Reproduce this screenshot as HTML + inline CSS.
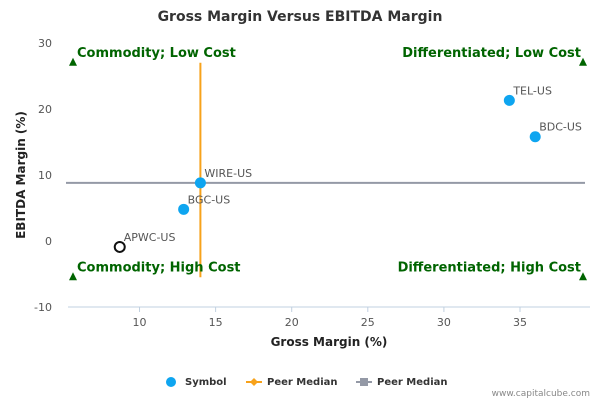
<!DOCTYPE html>
<html><head><meta charset="utf-8"><style>
body{margin:0;background:#fff}
svg{font-family:"DejaVu Sans","Liberation Sans",sans-serif}
</style></head><body>
<svg id="chart" width="600" height="400" viewBox="0 0 600 400">
<text x="300" y="21" text-anchor="middle" font-size="14" font-weight="bold" fill="#333">Gross Margin Versus EBITDA Margin</text>
<g id="axes"></g>
<g id="marks"></g>
<text x="329" y="346" text-anchor="middle" font-size="12" font-weight="bold" fill="#222">Gross Margin (%)</text>
<text transform="translate(25,175) rotate(-90)" text-anchor="middle" font-size="12" font-weight="bold" fill="#222">EBITDA Margin (%)</text>
<g font-size="10" font-weight="bold" fill="#333">
<g><circle cx="171" cy="382" r="5" fill="#0ea5f0"/><text x="185" y="385">Symbol</text></g>
<g><line x1="246" y1="382" x2="262" y2="382" stroke="#f7a21b" stroke-width="2"/><path d="M254 378 L258 382 L254 386 L250 382Z" fill="#f7a21b"/><text x="267" y="385">Peer Median</text></g>
<g><line x1="356" y1="382" x2="372" y2="382" stroke="#9499a6" stroke-width="2"/><rect x="360" y="378" width="8" height="8" fill="#9499a6"/><text x="377" y="385">Peer Median</text></g>
</g>
<text x="590" y="396" text-anchor="end" font-size="9" fill="#888">www.capitalcube.com</text>
</svg>
<script>
const xTicks=[10,15,20,25,30,35];
const yTicks=[-10,0,10,20,30];
const names=["TEL-US","BDC-US","WIRE-US","BGC-US","APWC-US"];
const gross=[34.3,36.0,14.0,12.9,8.7];
const ebitda=[21.3,15.8,8.8,4.8,-0.9];
const hollow=[false,false,false,false,true];
const medianGross=[14.0];
const medianEbitda=[8.8];
const quadLabels=["Commodity; Low Cost","Differentiated; Low Cost","Commodity; High Cost","Differentiated; High Cost"];
const xMin=5.3,xMax=39.6,yMin=-10,yMax=30,yTop=27,yBot=-5.5;
const L=68,R=590,T=43,B=307;
const sx=v=>L+(v-xMin)/(xMax-xMin)*(R-L);
const sy=v=>B-(v-yMin)/(yMax-yMin)*(B-T);
const NS="http://www.w3.org/2000/svg";
function mk(t,a,p){const e=document.createElementNS(NS,t);for(const k in a)e.setAttribute(k,a[k]);p.appendChild(e);return e;}
const ax=document.getElementById('axes'),mg=document.getElementById('marks');
const xl=mk('line',{x1:L,y1:B,x2:R,y2:B,stroke:'#c0d0e0'},ax);


xTicks.forEach(v=>{const t=mk('line',{x1:sx(v),y1:B,x2:sx(v),y2:B+5,stroke:'#c0d0e0'},ax);


const l=mk('text',{x:sx(v),y:B+19,'text-anchor':'middle','font-size':11,fill:'#555'},ax);l.textContent=v;

});
yTicks.forEach(v=>{const l=mk('text',{x:52,y:sy(v)+4,'text-anchor':'end','font-size':11,fill:'#555'},ax);l.textContent=v;

});
const hm=mk('line',{x1:L-2,y1:sy(medianEbitda[0]),x2:585,y2:sy(medianEbitda[0]),stroke:'#9499a6','stroke-width':2},mg);


const vm=mk('line',{x1:sx(medianGross[0]),y1:sy(yTop),x2:sx(medianGross[0]),y2:sy(yBot),stroke:'#f7a21b','stroke-width':2},mg);


const qx=[73,583,73,583],qy=[yTop,yTop,yBot,yBot];
quadLabels.forEach((s,i)=>{const x=qx[i],y=sy(qy[i]);
const tr=mk('path',{d:`M${x} ${y-5} L${x+4} ${y+3} L${x-4} ${y+3}Z`,fill:'#006400'},mg);


const right=i%2==1;
const t=mk('text',{x:right?x-2:x+4,y:y-6,'text-anchor':right?'end':'start','font-size':13,'font-weight':'bold',fill:'#006400'},mg);t.textContent=s;

});
names.forEach((n,i)=>{const cx=sx(gross[i]),cy=sy(ebitda[i]);
const c=mk('circle',hollow[i]?{cx,cy,r:5,fill:'#fff',stroke:'#111','stroke-width':2}:{cx,cy,r:5.5,fill:'#0ea5f0'},mg);


const t=mk('text',{x:cx+4,y:cy-6,'font-size':11,fill:'#555'},mg);t.textContent=n;

});
</script>
</body></html>
